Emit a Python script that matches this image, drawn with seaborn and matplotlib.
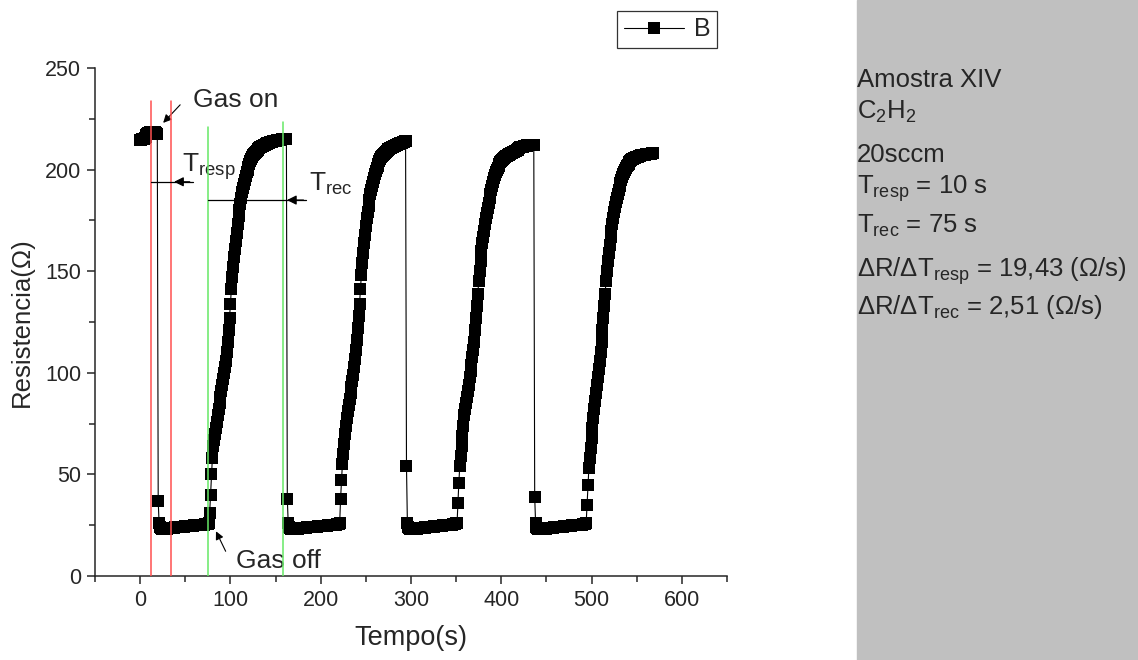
import numpy as np
import pandas as pd
import seaborn as sns
import matplotlib.pyplot as plt
from matplotlib.patches import Rectangle
from matplotlib.ticker import MultipleLocator

# Resistance readings, one sample per second, cycle by cycle
plateau0 = [214.5, 214.5, 215, 215, 215, 215.5, 216, 217, 217.5, 218,
            218, 218.5, 218.5, 218.5, 218.5, 218.5, 218.5, 218, 218, 217.5]
low1 = [37, 26, 24, 23.5, 23, 23, 23, 23, 23, 23,
        23, 23.5, 23.5, 23.5, 23.5, 23.5, 23.5, 23.5, 23.5, 24,
        24, 24, 24, 24, 24, 24, 24, 24, 24, 24,
        24.5, 24.5, 24.5, 24.5, 24.5, 24.5, 24.5, 24.5, 24.5, 24.5,
        25, 25, 25, 25, 25, 25, 25, 25, 25, 25,
        25, 25, 25.5, 25.5, 25.5, 25.5, 26]
rise1 = [31, 40, 50, 58, 64, 67, 70, 73, 76, 79,
         82, 85, 88, 91, 94, 97, 100, 103, 106, 110,
         115, 121, 127, 134, 141, 147, 152, 157, 161, 165,
         169, 173, 177, 180, 183, 186, 189, 191, 193, 195,
         197, 199, 200, 201.5, 203, 204, 205, 206, 207, 207.5,
         208, 208.5, 209, 209.5, 210, 210.5, 211, 211, 211.5, 211.5,
         212, 212, 212.5, 212.5, 213, 213, 213, 213.5, 213.5, 213.5,
         214, 214, 214, 214, 214, 214.5, 214.5, 214.5, 214.5, 214.5,
         215, 215, 215, 215, 215, 215]
low2 = [38, 26, 24, 23.5, 23, 23, 23, 23, 23, 23,
        23, 23, 23, 23.5, 23.5, 23.5, 23.5, 23.5, 23.5, 23.5,
        23.5, 23.5, 24, 24, 24, 24, 24, 24, 24, 24,
        24, 24, 24, 24, 24.5, 24.5, 24.5, 24.5, 24.5, 24.5,
        24.5, 24.5, 24.5, 24.5, 24.5, 25, 25, 25, 25, 25,
        25, 25, 25, 25, 25, 25.5, 25.5, 25.5, 26]
rise2 = [38, 47, 55, 60, 65, 70, 74, 78, 81, 84,
         87, 90, 93, 96, 99, 103, 107, 111, 116, 122,
         128, 134, 141, 148, 154, 159, 164, 168, 172, 176,
         179, 182, 185, 188, 190, 192, 194, 196, 198, 199.5,
         201, 202, 203, 204, 205, 206, 206.5, 207, 207.5, 208,
         208.5, 209, 209.5, 210, 210, 210.5, 210.5, 211, 211, 211.5,
         211.5, 212, 212, 212, 212.5, 212.5, 213, 213, 213, 213.5,
         213.5, 214, 214]
low3 = [54, 26, 24, 23.5, 23, 23, 23, 23, 23, 23,
        23, 23, 23, 23.5, 23.5, 23.5, 23.5, 23.5, 23.5, 23.5,
        23.5, 24, 24, 24, 24, 24, 24, 24, 24, 24,
        24, 24.5, 24.5, 24.5, 24.5, 24.5, 24.5, 24.5, 24.5, 24.5,
        25, 25, 25, 25, 25, 25, 25, 25, 25, 25,
        25, 25.5, 25.5, 25.5, 25.5, 26, 26]
rise3 = [36, 46, 54, 59, 64, 69, 74, 79, 82, 85,
         88, 91, 94, 98, 101, 104, 108, 111, 115, 121,
         127, 133, 139, 145, 150, 155, 160, 164, 167, 170,
         173, 176, 178.5, 181, 183.5, 186, 188, 190, 192, 194,
         196, 197.5, 199, 200, 201, 202, 203, 203.5, 204, 204.5,
         205, 205.5, 206, 206.5, 206.5, 207, 207, 207.5, 207.5, 208,
         208, 208.5, 208.5, 209, 209, 209.5, 209.5, 210, 210.5, 211,
         211, 211, 211, 211.5, 211.5, 211.5, 211.5, 212, 212, 212,
         212, 212, 212, 212, 212]
low4 = [39, 26, 24, 23.5, 23, 23, 23, 23, 23, 23,
        23, 23, 23, 23.5, 23.5, 23.5, 23.5, 23.5, 23.5, 23.5,
        23.5, 24, 24, 24, 24, 24, 24, 24, 24, 24,
        24, 24, 24.5, 24.5, 24.5, 24.5, 24.5, 24.5, 24.5, 24.5,
        24.5, 25, 25, 25, 25, 25, 25, 25, 25, 25,
        25, 25, 25, 25.5, 25.5, 25.5, 25.5, 26]
rise4 = [35, 45, 53, 58, 63, 68, 73, 78, 82, 86,
         90, 94, 98, 102, 106, 110, 115, 121, 127, 133,
         139, 145, 150, 155, 159, 163, 167, 170, 173, 176,
         179, 181.5, 184, 186, 188, 190, 192, 193.5, 195, 196.5,
         198, 199, 200, 201, 202, 202.5, 203, 203.5, 204, 204.5,
         205, 205, 205.5, 205.5, 206, 206, 206, 206.5, 206.5, 206.5,
         207, 207, 207, 207, 207, 207.5, 207.5, 207.5, 207.5, 207.5,
         207.5, 207.5, 208, 208]

resist = plateau0 + low1 + rise1 + low2 + rise2 + low3 + rise3 + low4 + rise4
df = pd.DataFrame({"Tempo": np.arange(len(resist)), "R": resist})

# marker lines (seconds) and their heights
resp_t = [12.5, 34.5]
resp_top = 234
rec_t = [75, 158.5]
rec_top = [221, 223.5]

sns.set_style("ticks")
plt.rcParams["font.family"] = ["Liberation Sans", "DejaVu Sans"]
plt.rcParams["mathtext.fontset"] = "custom"
plt.rcParams["mathtext.rm"] = "Liberation Sans"
plt.rcParams["mathtext.it"] = "Liberation Sans:italic"
plt.rcParams["mathtext.bf"] = "Liberation Sans:bold"

fig = plt.figure(figsize=(11.38, 6.6), dpi=100)
fig.add_artist(Rectangle((857 / 1138, 0), 1 - 857 / 1138, 1, transform=fig.transFigure,
                         color="#c0c0c0", zorder=0))
ax = fig.add_axes([95 / 1138, 1 - 576 / 660, 632 / 1138, 508 / 660])

sns.lineplot(data=df, x="Tempo", y="R", ax=ax, color="black", marker="s",
             markersize=8.4, markeredgewidth=0, linewidth=0.8, errorbar=None, legend=False)
line = ax.lines[0]

for t in resp_t:
    ax.plot([t, t], [0, resp_top], color="#ff5050", lw=1.1, zorder=5)
for t, top in zip(rec_t, rec_top):
    ax.plot([t, t], [0, top], color="#66e866", lw=1.1, zorder=5)

# response / recovery arrows
ax.plot([resp_t[0], 58], [194, 194], color="black", lw=0.9, zorder=6)
ax.annotate("", xy=(resp_t[1], 194), xytext=(58, 194),
            arrowprops=dict(arrowstyle="-|>", color="black", lw=0.9, mutation_scale=14), zorder=6)
ax.plot([rec_t[0], 184], [185, 185], color="black", lw=0.9, zorder=6)
ax.annotate("", xy=(rec_t[1] + 1, 185), xytext=(184, 185),
            arrowprops=dict(arrowstyle="-|>", color="black", lw=0.9, mutation_scale=14), zorder=6)
ax.text(46, 199, r"T$_{\mathrm{resp}}$", fontsize=19, va="baseline", ha="left")
ax.text(187, 189.5, r"T$_{\mathrm{rec}}$", fontsize=19, va="baseline", ha="left")

ax.annotate("Gas on", xy=(25.5, 223), xytext=(58.5, 230.8), fontsize=19, va="baseline",
            arrowprops=dict(arrowstyle="-|>", color="black", lw=0.8, mutation_scale=12,
                            shrinkA=0, shrinkB=0, relpos=(-0.15, 0.3)))
ax.annotate("Gas off", xy=(84, 22), xytext=(106, 4), fontsize=19, va="baseline",
            arrowprops=dict(arrowstyle="-|>", color="black", lw=0.8, mutation_scale=12,
                            shrinkA=0, shrinkB=0, relpos=(-0.12, 0.9)))

ax.set_xlim(-50, 650)
ax.set_ylim(0, 250)
ax.xaxis.set_major_locator(MultipleLocator(100))
ax.xaxis.set_minor_locator(MultipleLocator(50))
ax.yaxis.set_major_locator(MultipleLocator(50))
ax.yaxis.set_minor_locator(MultipleLocator(25))
ax.tick_params(which="major", length=6, width=1.1, labelsize=15.5, direction="out", pad=4)
ax.tick_params(which="minor", length=4, width=1.1, direction="out")
sns.despine(ax=ax)
for s in ["left", "bottom"]:
    ax.spines[s].set_linewidth(1.1)
ax.set_xlabel("Tempo(s)", fontsize=19.5, labelpad=10)
ax.set_ylabel("Resistencia(Ω)", fontsize=18.5, labelpad=8)

leg = fig.legend([line], ["B"], loc="center", bbox_to_anchor=(667 / 1138, 1 - 29.5 / 660),
                 fontsize=18, frameon=True, fancybox=False, edgecolor="black",
                 handlelength=2.4, handletextpad=0.4, borderpad=0.25, numpoints=1)
leg.get_frame().set_linewidth(0.9)

info = ["Amostra XIV", r"C$_2$H$_2$", "20sccm", r"T$_{\mathrm{resp}}$ = 10 s",
        r"T$_{\mathrm{rec}}$ = 75 s", r"ΔR/ΔT$_{\mathrm{resp}}$ = 19,43 (Ω/s)",
        r"ΔR/ΔT$_{\mathrm{rec}}$ = 2,51 (Ω/s)"]
info_y = [87, 119, 162, 194, 233, 277, 314]
for txt, yy in zip(info, info_y):
    fig.text(857 / 1138, 1 - yy / 660, txt, fontsize=18.5, va="baseline", ha="left")

fig.savefig("out.png", dpi=100)
